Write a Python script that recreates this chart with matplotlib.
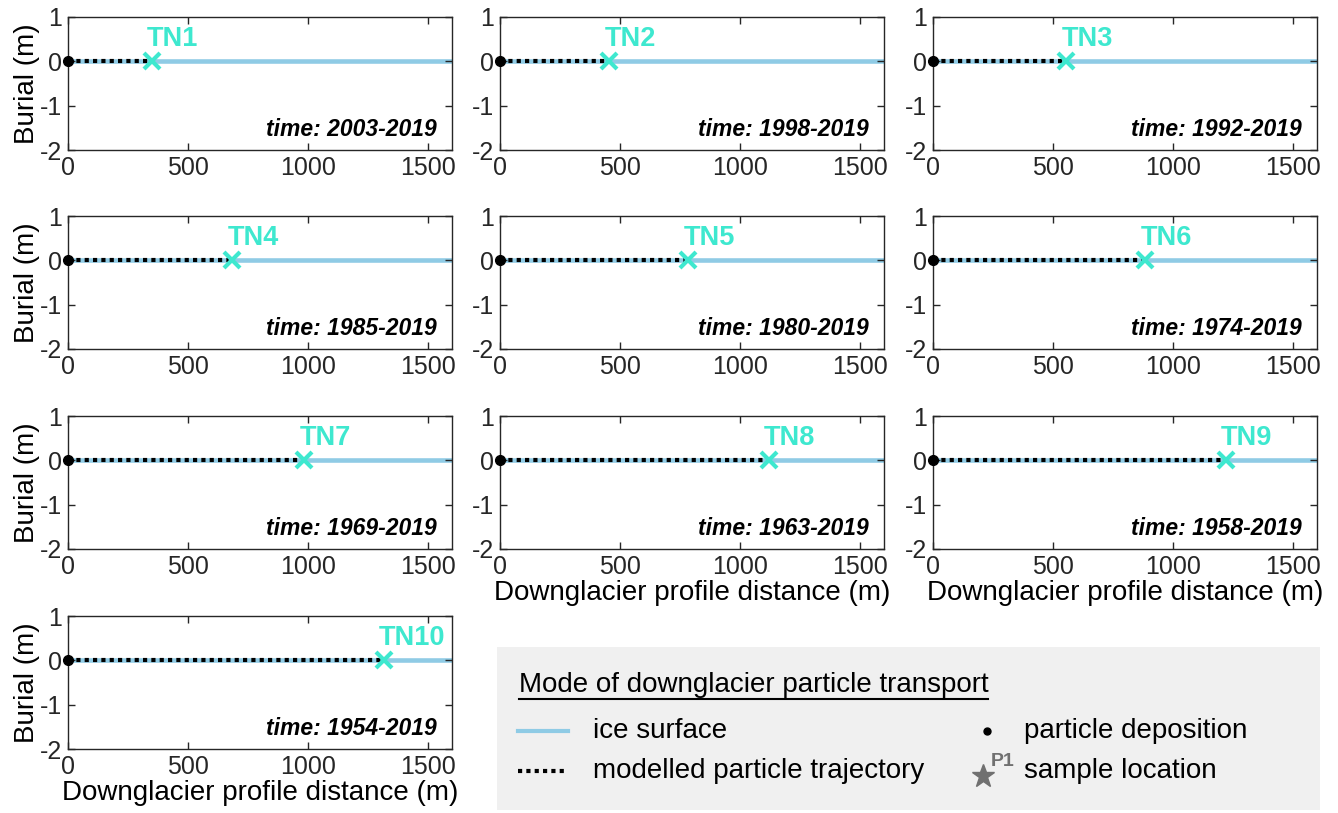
import matplotlib
matplotlib.use("agg")
import matplotlib.pyplot as plt
from matplotlib.font_manager import fontManager

# sample names, position of the sample along the profile (m) and time span
samples = ['TN1', 'TN2', 'TN3', 'TN4', 'TN5', 'TN6', 'TN7', 'TN8', 'TN9', 'TN10']
sample_x = [350, 455, 555, 685, 785, 885, 985, 1120, 1220, 1315]
periods = ['2003-2019', '1998-2019', '1992-2019', '1985-2019', '1980-2019',
           '1974-2019', '1969-2019', '1963-2019', '1958-2019', '1954-2019']
profile_end = 1600
xticks = [0, 500, 1000, 1500]
yticks = [-2, -1, 0, 1]

names = set(f.name for f in fontManager.ttflist)
narrow = 'Liberation Sans Narrow' if 'Liberation Sans Narrow' in names else 'Liberation Sans'
plt.rcParams['font.family'] = ['Liberation Sans', 'DejaVu Sans']
plt.rcParams['axes.unicode_minus'] = False

ice_col = '#8fcbe5'
tn_col = '#3ee8cf'
axis_col = '#262626'

W, H = 1338, 813
fig = plt.figure(figsize=(W / 100, H / 100), dpi=100)

lefts = [68, 500, 933]
tops = [17, 216, 416, 616]
aw, ah = 384, 133

def px_axes(l, t, w, h):
    return fig.add_axes([l / W, 1 - (t + h) / H, w / W, h / H])

for i, name in enumerate(samples):
    r, c = divmod(i, 3)
    ax = px_axes(lefts[c], tops[r], aw, ah)
    ax.plot([0, profile_end], [0, 0], color=ice_col, lw=3.3, solid_capstyle='butt', zorder=1)
    ax.plot([0, sample_x[i]], [0, 0], color='k', lw=3, ls=(0, (1, 1)), zorder=2)
    ax.plot(0, 0, 'o', color='k', ms=7, zorder=3, clip_on=False)
    ax.plot(sample_x[i], 0, 'x', color=tn_col, ms=12, mew=3, zorder=4)
    ax.text(sample_x[i] - 20, 0.2, name, color=tn_col, fontsize=19.5, fontweight='bold',
            ha='left', va='bottom')
    ax.text(0.96, 0.065, 'time: ' + periods[i], transform=ax.transAxes, ha='right',
            va='bottom', fontsize=16.5, fontweight='bold', fontstyle='italic', family=narrow)
    ax.set_xlim(0, profile_end)
    ax.set_ylim(-2, 1)
    ax.set_xticks(xticks)
    ax.set_yticks(yticks)
    ax.tick_params(direction='in', top=True, right=True, length=5, width=1,
                   labelsize=18, colors=axis_col, labelcolor='#262626', pad=4)
    for s in ax.spines.values():
        s.set_color(axis_col)
        s.set_linewidth(1)
    if c == 0:
        ax.set_ylabel('Burial (m)', fontsize=20, labelpad=0)
    if i >= 6 and (c != 0 or i == 9):
        ax.set_xlabel('Downglacier profile distance (m)', fontsize=20, labelpad=1)

# legend panel
lg = px_axes(497, 647, 823, 163)
lg.set_xlim(0, 823)
lg.set_ylim(163, 0)
lg.set_facecolor('#f0f0f0')
for s in lg.spines.values():
    s.set_visible(False)
lg.set_xticks([])
lg.set_yticks([])
fs = 20
lg.text(22, 38, 'Mode of downglacier particle transport', fontsize=fs, family=narrow,
        va='center', ha='left')
lg.plot([22, 491], [52, 52], color='k', lw=1.5)
lg.plot([21, 71], [84, 84], color=ice_col, lw=3)
lg.text(96, 84, 'ice surface', fontsize=fs, family=narrow, va='center')
lg.plot([21, 71], [124, 124], color='k', lw=3, ls=(0, (1, 1)))
lg.text(96, 124, 'modelled particle trajectory', fontsize=fs, family=narrow, va='center')
lg.plot(490, 84, 'o', color='k', ms=5)
lg.text(527, 84, 'particle deposition', fontsize=fs, family=narrow, va='center')
lg.plot(486, 129, '*', color='#707070', ms=17)
lg.text(494, 114, 'P1', fontsize=14, fontweight='bold', color='#707070', va='center')
lg.text(527, 124, 'sample location', fontsize=fs, family=narrow, va='center')

fig.savefig('out.png', dpi=100)
